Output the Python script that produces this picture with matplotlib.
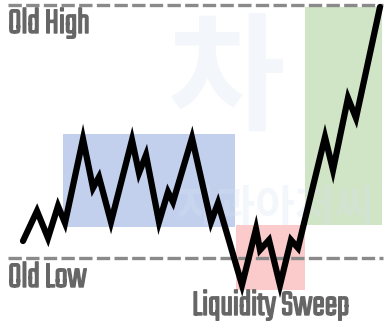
import matplotlib.pyplot as plt
import matplotlib.patheffects as pe
from matplotlib.patches import Rectangle

# price path (x = time, y = price)
time = [23, 37, 48, 58, 65, 83, 93, 99, 111, 132, 139, 146, 159, 168, 173,
        192, 211, 218, 242, 256, 260, 269, 280, 291, 298, 325, 333, 348, 356, 380]
price = [88, 118, 91, 123, 106, 190, 141, 152, 107, 189, 156, 174, 107, 137, 127,
         191, 107, 126, 44, 100, 79, 89, 44, 89, 81, 192, 159, 231, 211, 322]

old_high = 324
old_low = 71

# zones: (x0, x1, y0, y1, colour)
range_zone = (63, 235, 102, 195, '#c2d0ee')
sweep_zone = (236, 305, 39, 104, '#fbcaca')
rally_zone = (305, 382, 104, 322, '#d0e5c5')

W, H = 389, 329
fig = plt.figure(figsize=(W / 100, H / 100), dpi=100)
ax = fig.add_axes([0, 0, 1, 1])
ax.set_xlim(0, W)
ax.set_ylim(0, H)
ax.axis('off')

for x0, x1, y0, y1, c in [range_zone, sweep_zone, rally_zone]:
    ax.add_patch(Rectangle((x0, y0), x1 - x0, y1 - y0, color=c, lw=0, zorder=1))

# faint watermark
wm = dict(family=['Noto Sans CJK KR', 'DejaVu Sans'], color='#d8e3f0',
          alpha=0.3, zorder=2, fontweight='bold')
ax.text(168, 247, '차', fontsize=92, va='center', ha='left', **wm)
ax.text(176, 121, '자과아저씨', fontsize=31, va='center', ha='left', **wm)

ax.hlines([old_high, old_low], 8, 383, colors='#8a8a8a', lw=2.4,
          linestyles=(0, (4, 1.3)), zorder=3)

ax.plot(time, price, color='black', lw=4.5, solid_joinstyle='miter',
        solid_capstyle='round', zorder=4)

grey = '#666666'
lab = dict(family=['Teko', 'Saira ExtraCondensed', 'Barlow Condensed', 'DejaVu Sans'],
           fontweight='bold', color=grey, fontsize=27, zorder=5,
           path_effects=[pe.withStroke(linewidth=1.0, foreground=grey)])
ax.text(8, 296, 'Old High', va='baseline', ha='left', **lab)
ax.text(8, 42, 'Old Low', va='baseline', ha='left', **lab)
ax.text(192, 14, 'Liquidity Sweep', va='baseline', ha='left', **lab)

fig.savefig('out.png', dpi=100, facecolor='white')
